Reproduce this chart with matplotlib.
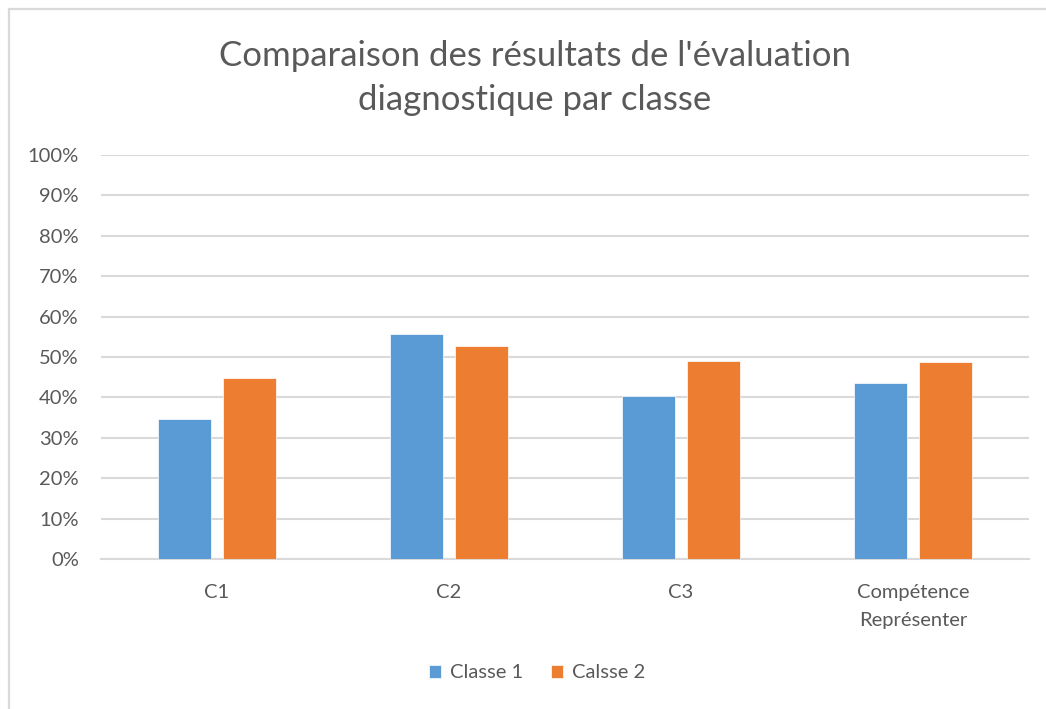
import matplotlib
matplotlib.use("Agg")
import matplotlib.pyplot as plt
import numpy as np
from matplotlib.patches import Rectangle
from matplotlib.ticker import PercentFormatter

categories = ["C1", "C2", "C3", "Compétence\nReprésenter"]
classe_1 = [34.6, 55.6, 40.3, 43.5]
classe_2 = [44.7, 52.7, 49.0, 48.8]
series_names = ["Classe 1", "Calsse 2"]

text_color = "#595959"
grid_color = "#d9d9d9"
blue = "#5b9bd5"
orange = "#ed7d31"

plt.rcParams["font.family"] = ["Lato", "DejaVu Sans"]

fig = plt.figure(figsize=(10.46, 7.09), dpi=100)
fig.patch.set_facecolor("white")

# cadre du graphique (coupé à droite et en bas)
fig.patches.append(Rectangle((9 / 1046, -0.05), 1.2, 1 - 9 / 709 + 0.05,
                             transform=fig.transFigure, fill=False,
                             edgecolor=grid_color, linewidth=1.6))

ax = fig.add_axes([101 / 1046, 1 - 559 / 709, (1029 - 101) / 1046, (559 - 155) / 709])

x = np.arange(len(categories))
w = 0.226
ax.bar(x - 0.141, classe_1, width=w, color=blue, edgecolor="white", linewidth=0.5,
       label=series_names[0], zorder=3)
ax.bar(x + 0.141, classe_2, width=w, color=orange, edgecolor="white", linewidth=0.5,
       label=series_names[1], zorder=3)

ax.set_xlim(-0.5, len(categories) - 0.5)
ax.set_ylim(0, 100)
ax.set_yticks(np.arange(0, 101, 10))
ax.yaxis.set_major_formatter(PercentFormatter(decimals=0))
ax.set_xticks(x)
ax.set_xticklabels(categories, linespacing=1.8)

ax.yaxis.grid(True, color=grid_color, linewidth=1.5, zorder=0)
for side in ["top", "right", "left"]:
    ax.spines[side].set_visible(False)
ax.spines["bottom"].set_color(grid_color)
ax.spines["bottom"].set_linewidth(1.5)
ax.tick_params(axis="both", length=0, colors=text_color, labelsize=14.5)
ax.tick_params(axis="y", pad=16)
ax.tick_params(axis="x", pad=18)

fig.text(535 / 1046, 1 - 78 / 709,
         "Comparaison des résultats de l'évaluation\ndiagnostique par classe",
         ha="center", va="center", fontsize=25, color=text_color, linespacing=1.45)

leg = fig.legend(loc="center", bbox_to_anchor=(537 / 1046, 1 - 673 / 709), ncol=2,
                 frameon=False, fontsize=14.5, handlelength=0.6, handleheight=0.6,
                 handletextpad=0.45, columnspacing=1.4)
for t in leg.get_texts():
    t.set_color(text_color)

fig.savefig("out.png", dpi=100, facecolor="white")
